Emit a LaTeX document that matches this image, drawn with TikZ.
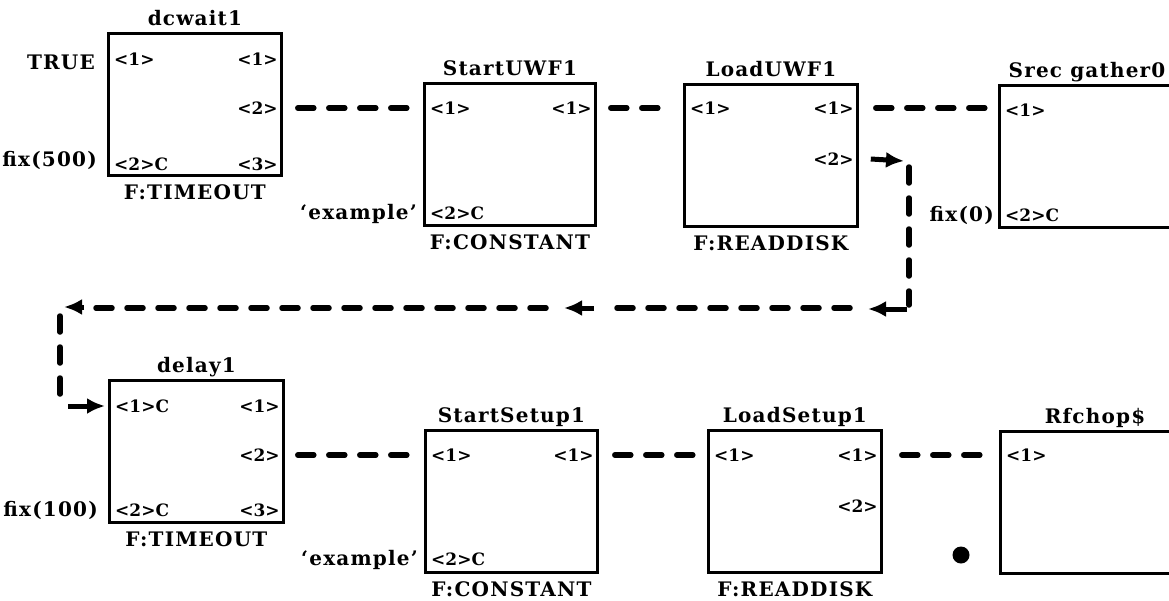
\documentclass[tikz,border=0pt]{standalone}
\usepackage{fontspec}
\usetikzlibrary{arrows.meta,calc}
\newfontfamily\labf[LetterSpace=6]{DejaVu Serif}
\newfontfamily\portf{DejaVu Serif}
\begin{document}
\begin{tikzpicture}[x=1pt,y=-1pt,
  blk/.style={draw,line width=2.8pt,anchor=north west,inner sep=0pt,minimum height=142pt},
  ttl/.style={font=\labf\bfseries\fontsize{20}{23}\selectfont,inner sep=0pt},
  port/.style={font=\portf\bfseries\fontsize{17}{19}\selectfont,inner sep=0pt},
  conn/.style={line width=5.5pt,line cap=round,dash pattern=on 16pt off 15pt},
  sarr/.style={line width=5pt,-{Latex[length=18pt,width=16pt]}},
]
\useasboundingbox (0,0) rectangle (1169,600);
\clip (0,0) rectangle (1169,600);

% ---------- top row ----------
\node[blk,minimum width=173pt] (dcw) at (107,32) {};
\node[blk,minimum width=171pt] (suw) at (423,82) {};
\node[blk,minimum width=173pt] (luw) at (683,83) {};
\node[blk,minimum width=180pt] (srg) at (998,84) {};
% ---------- bottom row ----------
\node[blk,minimum width=174pt] (dly) at (108,379) {};
\node[blk,minimum width=172pt] (sts) at (424,429) {};
\node[blk,minimum width=173pt] (lds) at (707,429) {};
\node[blk,minimum width=192pt] (rfc) at (999,430) {};

% titles
\node[ttl,anchor=base,yshift=7pt] (t1) at (dcw.north) {dcwait1};
\node[ttl,anchor=base,yshift=7pt] (t2) at (suw.north) {StartUWF1};
\node[ttl,anchor=base,yshift=7pt] (t3) at (luw.north) {LoadUWF1};
\node[ttl,anchor=base,yshift=7pt] (t4) at ([xshift=89pt]srg.north west) {Srec gather0};
\node[ttl,anchor=base,yshift=7pt] (t5) at (dly.north) {delay1};
\node[ttl,anchor=base,yshift=7pt] (t6) at (sts.north) {StartSetup1};
\node[ttl,anchor=base,yshift=7pt] (t7) at (lds.north) {LoadSetup1};
\node[ttl,anchor=base,yshift=7pt] (t8) at ([xshift=96pt]rfc.north west) {Rfchop\$};

% footers
\node[ttl,anchor=base,yshift=-23pt] (b1) at (dcw.south) {F:TIMEOUT};
\node[ttl,anchor=base,yshift=-23pt] (b2) at (suw.south) {F:CONSTANT};
\node[ttl,anchor=base,yshift=-23pt] (b3) at (luw.south) {F:READDISK};
\node[ttl,anchor=base,yshift=-23pt] (b5) at (dly.south) {F:TIMEOUT};
\node[ttl,anchor=base,yshift=-23pt] (b6) at (sts.south) {F:CONSTANT};
\node[ttl,anchor=base,yshift=-23pt] (b7) at (lds.south) {F:READDISK};

% ports: dcwait1
\node[port,anchor=west] (dcwi1) at ([xshift=7pt,yshift=-27pt]dcw.north west) {<1>};
\node[port,anchor=east] (dcwo1) at ([xshift=-5pt,yshift=-27pt]dcw.north east) {<1>};
\node[port,anchor=east] (dcwo2) at ([xshift=-5pt,yshift=-76pt]dcw.north east) {<2>};
\node[port,anchor=west] (dcwi2) at ([xshift=7pt,yshift=12pt]dcw.south west) {<2>C};
\node[port,anchor=east] (dcwo3) at ([xshift=-5pt,yshift=12pt]dcw.south east) {<3>};
\node[ttl,anchor=east] (e1) at ([xshift=-12pt,yshift=-30pt]dcw.north west) {TRUE};
\node[ttl,anchor=east] (e2) at ([xshift=-10pt,yshift=16pt]dcw.south west) {fix(500)};

% ports: StartUWF1
\node[port,anchor=west] (suwi1) at ([xshift=7pt,yshift=-26pt]suw.north west) {<1>};
\node[port,anchor=east] (suwo1) at ([xshift=-5pt,yshift=-26pt]suw.north east) {<1>};
\node[port,anchor=west] (suwi2) at ([xshift=7pt,yshift=13pt]suw.south west) {<2>C};
\node[ttl,anchor=east] (e3) at ([xshift=-6pt,yshift=13pt]suw.south west) {‘example’};

% ports: LoadUWF1
\node[port,anchor=west] (luwi1) at ([xshift=7pt,yshift=-25pt]luw.north west) {<1>};
\node[port,anchor=east] (luwo1) at ([xshift=-5pt,yshift=-25pt]luw.north east) {<1>};
\node[port,anchor=east] (luwo2) at ([xshift=-5pt,yshift=-76pt]luw.north east) {<2>};

% ports: Srec gather0
\node[port,anchor=west] (srgi1) at ([xshift=7pt,yshift=-26pt]srg.north west) {<1>};
\node[port,anchor=west] (srgi2) at ([xshift=7pt,yshift=13pt]srg.south west) {<2>C};
\node[ttl,anchor=east] (e4) at ([xshift=-4pt,yshift=13pt]srg.south west) {fix(0)};

% ports: delay1
\node[port,anchor=west] (dlyi1) at ([xshift=7pt,yshift=-27pt]dly.north west) {<1>C};
\node[port,anchor=east] (dlyo1) at ([xshift=-5pt,yshift=-27pt]dly.north east) {<1>};
\node[port,anchor=east] (dlyo2) at ([xshift=-5pt,yshift=-76pt]dly.north east) {<2>};
\node[port,anchor=west] (dlyi2) at ([xshift=7pt,yshift=13pt]dly.south west) {<2>C};
\node[port,anchor=east] (dlyo3) at ([xshift=-5pt,yshift=13pt]dly.south east) {<3>};
\node[ttl,anchor=east] (e5) at ([xshift=-10pt,yshift=13pt]dly.south west) {fix(100)};

% ports: StartSetup1
\node[port,anchor=west] (stsi1) at ([xshift=7pt,yshift=-26pt]sts.north west) {<1>};
\node[port,anchor=east] (stso1) at ([xshift=-5pt,yshift=-26pt]sts.north east) {<1>};
\node[port,anchor=west] (stsi2) at ([xshift=7pt,yshift=14pt]sts.south west) {<2>C};
\node[ttl,anchor=east] (e6) at ([xshift=-6pt,yshift=14pt]sts.south west) {‘example’};

% ports: LoadSetup1
\node[port,anchor=west] (ldsi1) at ([xshift=7pt,yshift=-26pt]lds.north west) {<1>};
\node[port,anchor=east] (ldso1) at ([xshift=-5pt,yshift=-26pt]lds.north east) {<1>};
\node[port,anchor=east] (ldso2) at ([xshift=-5pt,yshift=-77pt]lds.north east) {<2>};

% ports: Rfchop$
\node[port,anchor=west] (rfci1) at ([xshift=7pt,yshift=-25pt]rfc.north west) {<1>};

% dot
\fill (961,555) circle (8.5pt);

% dashed connectors
\draw[conn,shorten <=15pt,shorten >=10pt] (dcw.east |- dcwo2) -- (suw.west |- dcwo2);
\draw[conn,shorten <=14pt,shorten >=13pt] (suw.east |- suwo1) -- (luw.west |- suwo1);
\draw[conn,shorten <=17pt,shorten >=10pt] (luw.east |- luwo1) -- (srg.west |- luwo1);
\draw[conn,shorten <=13pt,shorten >=10pt] (dly.east |- dlyo2) -- (sts.west |- dlyo2);
\draw[conn,shorten <=16pt,shorten >=14pt] (sts.east |- stso1) -- (lds.west |- stso1);
\draw[conn,shorten <=19pt,shorten >=11pt] (lds.east |- ldso1) -- (rfc.west |- ldso1);

% feedback connector LoadUWF1 <2> -> delay1 <1>C
\coordinate (fa) at ([xshift=12pt]luw.east |- luwo2);
\coordinate (fb) at (904,161);
\coordinate (fc) at (909,167);
\coordinate (fd) at (909,305);
\coordinate (fe) at (907,309);
\coordinate (ff) at (868,309);
\coordinate (fg) at (850,308);
\coordinate (fh) at (604,308);
\coordinate (fi) at (594,308);
\coordinate (fj) at (564,308);
\coordinate (fk) at (546,308);
\coordinate (fl) at (86,308);
\coordinate (fm) at (84,307);
\coordinate (fn) at (64,307);
\coordinate (fo) at (60,316);
\coordinate (fp) at (60,404);
\coordinate (fq) at (68,406);
\coordinate (fr) at ([xshift=-3pt]dly.west |- dlyi1);
\draw[sarr] (fa) -- (fb);
\draw[conn] (fc) -- (fd);
\draw[sarr] (fe) -- (ff);
\draw[conn] (fg) -- (fh);
\draw[sarr] (fi) -- (fj);
\draw[conn] (fk) -- (fl);
\draw[sarr] (fm) -- (fn);
\draw[conn] (fo) -- (fp);
\draw[sarr] (fq) -- (fr);
\end{tikzpicture}
\end{document}
